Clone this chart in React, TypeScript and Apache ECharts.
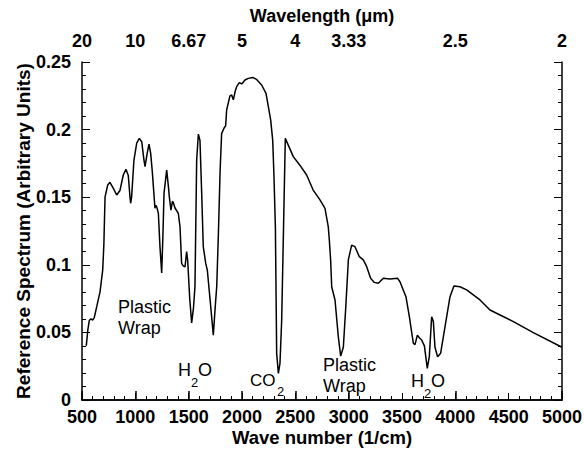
import React, { useEffect, useRef } from "react";
import * as echarts from "echarts";

const waveNumber = [540, 555, 569, 585, 600, 615, 638, 669, 694, 705, 716, 741, 762, 794, 825, 856, 887, 912, 934, 950, 956, 965, 987, 1013, 1037, 1060, 1080, 1091, 1110, 1128, 1144, 1160, 1169, 1184, 1192, 1200, 1216, 1231, 1247, 1258, 1269, 1294, 1310, 1319, 1334, 1348, 1356, 1372, 1403, 1419, 1434, 1450, 1466, 1481, 1491, 1510, 1528, 1545, 1559, 1575, 1591, 1606, 1622, 1637, 1660, 1675, 1700, 1731, 1750, 1763, 1778, 1795, 1809, 1831, 1847, 1856, 1887, 1903, 1919, 1935, 1950, 1975, 1997, 2028, 2059, 2100, 2137, 2184, 2225, 2247, 2269, 2288, 2300, 2313, 2325, 2341, 2356, 2372, 2390, 2406, 2481, 2544, 2606, 2669, 2731, 2778, 2809, 2819, 2831, 2841, 2872, 2903, 2925, 2950, 2975, 2997, 3028, 3059, 3100, 3137, 3169, 3206, 3240, 3278, 3325, 3387, 3459, 3481, 3537, 3569, 3606, 3622, 3644, 3662, 3684, 3710, 3737, 3756, 3778, 3794, 3809, 3834, 3862, 3903, 3950, 3987, 4044, 4106, 4231, 4325, 4419, 4544, 4731, 5000];

const spectrum = [0.040, 0.052, 0.059, 0.060, 0.059, 0.061, 0.069, 0.080, 0.096, 0.115, 0.150, 0.159, 0.161, 0.1565, 0.1516, 0.155, 0.1664, 0.1706, 0.166, 0.150, 0.1455, 0.150, 0.1775, 0.190, 0.1935, 0.191, 0.178, 0.1726, 0.182, 0.1893, 0.1824, 0.168, 0.158, 0.1418, 0.144, 0.143, 0.138, 0.1134, 0.094, 0.120, 0.153, 0.170, 0.158, 0.150, 0.1405, 0.147, 0.146, 0.142, 0.138, 0.128, 0.101, 0.099, 0.0986, 0.1097, 0.103, 0.075, 0.057, 0.068, 0.0838, 0.1775, 0.1967, 0.192, 0.153, 0.1134, 0.101, 0.096, 0.075, 0.048, 0.070, 0.0838, 0.121, 0.170, 0.197, 0.201, 0.203, 0.2145, 0.2249, 0.2256, 0.222, 0.228, 0.2318, 0.2348, 0.2338, 0.2367, 0.2379, 0.2386, 0.2371, 0.233, 0.2268, 0.217, 0.207, 0.192, 0.165, 0.128, 0.0345, 0.0197, 0.027, 0.059, 0.130, 0.1935, 0.180, 0.1735, 0.1664, 0.155, 0.148, 0.1418, 0.128, 0.118, 0.1036, 0.0838, 0.074, 0.0468, 0.0325, 0.039, 0.0715, 0.1036, 0.1146, 0.1134, 0.106, 0.1036, 0.0986, 0.090, 0.087, 0.0863, 0.090, 0.0895, 0.090, 0.0875, 0.0764, 0.0616, 0.042, 0.041, 0.048, 0.046, 0.0444, 0.040, 0.0234, 0.032, 0.0616, 0.058, 0.039, 0.032, 0.0345, 0.054, 0.0764, 0.0843, 0.0838, 0.0814, 0.074, 0.0666, 0.0629, 0.058, 0.0498, 0.039];

const topTickValues = [500, 1000, 1500, 2000, 2500, 3000, 4000, 5000];
const topTickLabels = ["20", "10", "6.67", "5", "4", "3.33", "2.5", "2"];

const FONT = "'Liberation Sans', Arial, Helvetica, sans-serif";

export default function App() {
  const ref = useRef<HTMLDivElement>(null);
  useEffect(() => {
    if (!ref.current) return;
    document.body.style.margin = "0";
    const chart = echarts.init(ref.current, undefined, { renderer: "svg" });
    const tickLabelStyle = { color: "#000", fontFamily: FONT, fontWeight: "bold" as const, fontSize: 18 };
    const nameStyle = (size: number) => ({ color: "#000", fontFamily: FONT, fontWeight: "bold" as const, fontSize: size });
    const lineStyle = { color: "#000", width: 1.5 };
    const annot = (text: string, x: number, y: number, size = 18) => ({
      type: "text",
      x,
      y,
      style: { text, fill: "#000", font: `${size}px ${FONT}`, verticalAlign: "middle", align: "left" },
    });
    chart.setOption({
      animation: false,
      backgroundColor: "#fff",
      grid: { left: 82, right: 22, top: 62, bottom: 49, containLabel: false, outerBoundsMode: "none" },
      xAxis: [
        {
          type: "value",
          position: "bottom",
          min: 500,
          max: 5000,
          interval: 500,
          name: "Wave number (1/cm)",
          nameLocation: "middle",
          nameGap: 28,
          nameMoveOverlap: false,
          nameTextStyle: nameStyle(18.5),
          axisLine: { show: true, lineStyle },
          axisTick: { show: true, inside: true, length: 7, lineStyle: { color: "#000", width: 1 } },
          minorTick: { show: true, splitNumber: 5, length: 4, lineStyle: { color: "#000", width: 1 } },
          axisLabel: { ...tickLabelStyle, margin: 8, formatter: (v: number) => String(v) },
          splitLine: { show: false },
        },
        {
          type: "value",
          position: "top",
          min: 500,
          max: 5000,
          name: "Wavelength (μm)",
          nameLocation: "middle",
          nameGap: 37,
          nameMoveOverlap: false,
          nameTextStyle: nameStyle(18),
          axisLine: { show: true, lineStyle },
          axisTick: { show: true, inside: false, length: 9, customValues: topTickValues, lineStyle: { color: "#000", width: 1.5 } },
          axisLabel: {
            ...tickLabelStyle,
            margin: 12,
            customValues: topTickValues,
            formatter: (v: number) => {
              const i = topTickValues.indexOf(v);
              return i >= 0 ? topTickLabels[i] : "";
            },
          },
          splitLine: { show: false },
        },
      ],
      yAxis: [
        {
          type: "value",
          position: "left",
          min: 0,
          max: 0.25,
          interval: 0.05,
          name: "Reference Spectrum (Arbitrary Units)",
          nameLocation: "middle",
          nameGap: 49,
          nameMoveOverlap: false,
          nameTextStyle: nameStyle(19),
          axisLine: { show: true, lineStyle },
          axisTick: { show: true, inside: true, length: 8, lineStyle: { color: "#000", width: 1 } },
          minorTick: { show: true, splitNumber: 5, length: 4, lineStyle: { color: "#000", width: 1 } },
          axisLabel: { ...tickLabelStyle, margin: 11 },
          splitLine: { show: false },
        },
        {
          type: "value",
          position: "right",
          min: 0,
          max: 0.25,
          interval: 0.05,
          axisLine: { show: true, lineStyle },
          axisTick: { show: true, inside: true, length: 8, lineStyle: { color: "#000", width: 1 } },
          minorTick: { show: true, splitNumber: 5, length: 4, lineStyle: { color: "#000", width: 1 } },
          axisLabel: { show: false },
          splitLine: { show: false },
        },
      ],
      series: [
        {
          type: "line",
          xAxisIndex: 0,
          yAxisIndex: 0,
          data: waveNumber.map((w, i) => [w, spectrum[i]]),
          showSymbol: false,
          symbol: "none",
          lineStyle: { color: "#000", width: 1.5 },
          silent: true,
        },
      ],
      graphic: [
        annot("Plastic", 118, 307),
        annot("Wrap", 118, 328),
        annot("H", 178, 370),
        annot("2", 191, 382, 13),
        annot("O", 198, 370),
        annot("CO", 250, 380, 17),
        annot("2", 277, 391, 13),
        annot("Plastic", 323, 365),
        annot("Wrap", 323, 386),
        annot("H", 411, 381),
        annot("2", 424, 393, 13),
        annot("O", 431, 381),
      ],
    });
    return () => chart.dispose();
  }, []);
  return <div ref={ref} style={{ width: 584, height: 449 }} />;
}
